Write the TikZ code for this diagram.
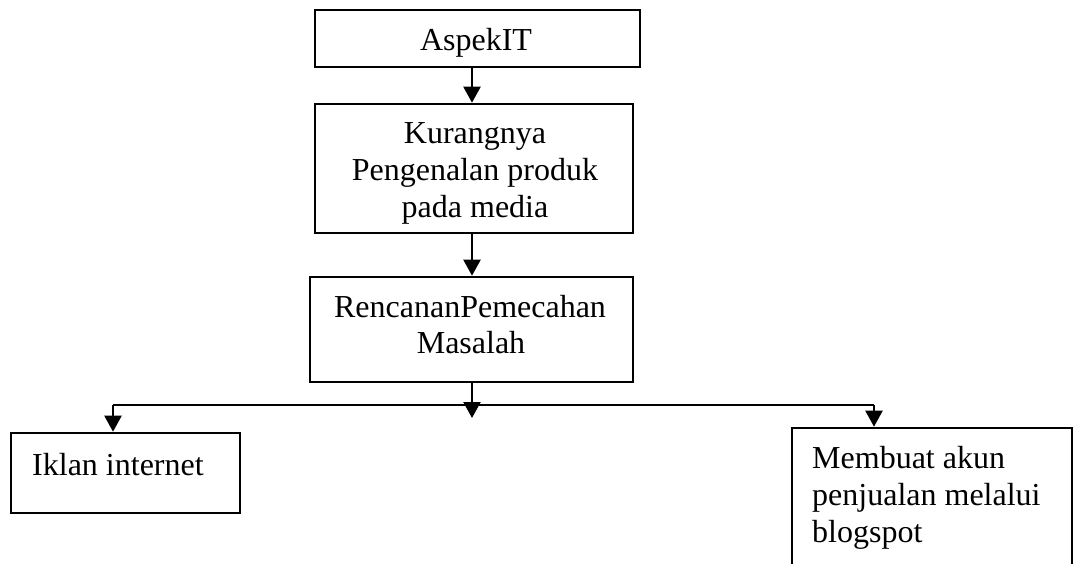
\documentclass[tikz,border=0pt]{standalone}
\usepackage{fontspec}
\setmainfont{Liberation Serif}
\usetikzlibrary{arrows.meta}
\begin{document}
\begin{tikzpicture}[x=1pt,y=-1pt,
  boxst/.style={draw=black,line width=2.6pt,rectangle,inner sep=0pt},
  txt/.style={inner sep=0pt,font=\fontsize{32}{37}\selectfont},
  arr/.style={line width=2.2pt,-{Triangle[length=16pt,width=17pt]}},
  conn/.style={line width=2.2pt}]
\useasboundingbox (0,0) rectangle (1073,563);
\clip (0,0) rectangle (1073,563);
\fill[white] (0,0) rectangle (1073,563);
% boxes
\node[boxst,minimum width=325pt,minimum height=57pt] (a) at (477.5,38.5) {};
\node[boxst,minimum width=318pt,minimum height=129pt] (b) at (474,168.5) {};
\node[boxst,minimum width=323pt,minimum height=105pt] (c) at (471.5,329.5) {};
\node[boxst,minimum width=229pt,minimum height=80pt] (d) at (125.5,473) {};
\node[boxst,minimum width=280pt,minimum height=200pt] (e) at (932,528) {};
% texts
\node[txt,anchor=base] (ta) at (476,50) {AspekIT};
\node[txt,anchor=base] (tb1) at (475,143) {Kurangnya};
\node[txt,anchor=base] (tb2) at (475,180) {Pengenalan produk};
\node[txt,anchor=base] (tb3) at (475,217) {pada media};
\node[txt,anchor=base] (tc1) at (470,317) {RencananPemecahan};
\node[txt,anchor=base] (tc2) at (471,353) {Masalah};
\node[txt,anchor=base west] (td) at (32,475) {Iklan internet};
\node[txt,anchor=base west] (te1) at (812,468) {Membuat akun};
\node[txt,anchor=base west] (te2) at (812,505) {penjualan melalui};
\node[txt,anchor=base west] (te3) at (812,542) {blogspot};
% connector coordinates
\coordinate (mx) at (472,0);
\coordinate (lx) at (113,405);
\coordinate (rx) at (874,405);
\coordinate (tip) at (472,418);
% connectors
\draw[arr] (a.south -| mx) -- (b.north -| mx);
\draw[arr] (b.south -| mx) -- (c.north -| mx);
\draw[arr] (c.south -| mx) -- (tip);
\draw[conn] (lx) -- (rx);
\draw[arr] (lx) -- (d.north -| lx);
\draw[arr] (rx) -- (e.north -| rx);
\end{tikzpicture}
\end{document}
